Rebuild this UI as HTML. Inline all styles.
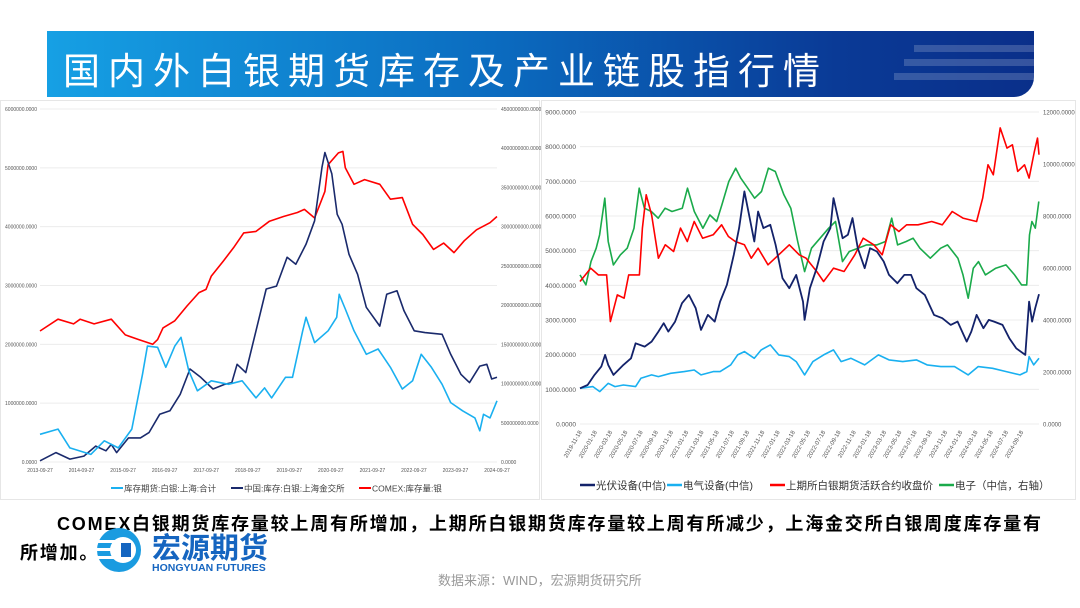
<!DOCTYPE html>
<html><head><meta charset="utf-8">
<style>
body{margin:0;width:1080px;height:608px;background:#fff;position:relative;overflow:hidden;font-family:"Liberation Sans","Noto Sans CJK SC",sans-serif;}
#banner{position:absolute;left:47px;top:31px;width:987px;height:66px;background:linear-gradient(90deg,#16a0e4 0%,#0b6cc0 45%,#0a3a96 80%,#0a2f8a 100%);border-bottom-right-radius:20px;overflow:hidden}
#banner .stripe{position:absolute;right:0;height:7px;background:rgba(255,255,255,0.18)}
#title{position:absolute;left:16px;top:10px;color:#fff;font-size:37px;font-family:"Liberation Sans","Noto Sans CJK SC",sans-serif;letter-spacing:8px;white-space:nowrap}
.panel{position:absolute;top:100px;height:400px;border:1px solid #e6e6e6;box-sizing:border-box}
svg text{font-family:"Liberation Sans","Noto Sans CJK SC",sans-serif}
#note1{position:absolute;left:57px;top:510px;font-size:18px;font-weight:bold;letter-spacing:1.8px;white-space:nowrap}
#note2{position:absolute;left:20px;top:539px;font-size:18px;font-weight:bold;letter-spacing:1.8px;white-space:nowrap}
#source{position:absolute;left:438px;top:570px;font-size:13px;color:#999;white-space:nowrap}
</style></head><body>
<div id="banner">
<div class="stripe" style="top:14px;width:120px"></div>
<div class="stripe" style="top:28px;width:130px"></div>
<div class="stripe" style="top:42px;width:140px"></div>
<div id="title">国内外白银期货库存及产业链股指行情</div>
</div>
<div class="panel" style="left:0;width:540px">
<svg id="left" width="540" height="400"></svg></div>
<div class="panel" style="left:541px;width:535px">
<svg id="right" width="535" height="400"></svg></div>
<div id="note1">COMEX白银期货库存量较上周有所增加，上期所白银期货库存量较上周有所减少，上海金交所白银周度库存量有</div>
<div id="note2">所增加。</div>
<svg style="position:absolute;left:95px;top:526px" width="220" height="50">
<circle cx="24" cy="24" r="22" fill="#1a9be0"/><circle cx="28" cy="24" r="13" fill="#fff"/>
<rect x="2" y="14" width="22" height="3" fill="#fff"/><rect x="2" y="22" width="22" height="3" fill="#fff"/><rect x="2" y="30" width="22" height="3" fill="#fff"/>
<rect x="26" y="17" width="10" height="14" fill="#1565c0"/>
<text x="57" y="32" font-size="29" font-weight="bold" fill="#1565c0">宏源期货</text>
<text x="57" y="45" font-size="10.5" font-weight="bold" fill="#1565c0">HONGYUAN FUTURES</text>
</svg>
<div id="source">数据来源：WIND，宏源期货研究所</div>
<script>
// ---------- left chart data ----------
const lxTicks=["2013-09-27","2014-09-27","2015-09-27","2016-09-27","2017-09-27","2018-09-27","2019-09-27","2020-09-27","2021-09-27","2022-09-27","2023-09-27","2024-09-27"];
const lyTicks=["0.0000","1000000.0000","2000000.0000","3000000.0000","4000000.0000","5000000.0000","6000000.0000"];
const lyrTicks=["0.0000","500000000.0000","1000000000.0000","1500000000.0000","2000000000.0000","2500000000.0000","3000000000.0000","3500000000.0000","4000000000.0000","4500000000.0000"];
const shfeT=[2013.75,2014.19,2014.48,2014.99,2015.32,2015.66,2015.99,2016.25,2016.37,2016.62,2016.82,2017.04,2017.19,2017.38,2017.59,2017.93,2018.35,2018.68,2019.02,2019.23,2019.40,2019.74,2019.91,2020.16,2020.24,2020.45,2020.78,2020.99,2021.05,2021.20,2021.41,2021.71,2022.00,2022.30,2022.59,2022.84,2023.05,2023.30,2023.56,2023.77,2024.06,2024.36,2024.48,2024.57,2024.73,2024.90];
const shfeV=[0.47,0.56,0.24,0.13,0.36,0.24,0.56,1.49,1.97,1.95,1.61,1.97,2.12,1.55,1.21,1.38,1.32,1.38,1.09,1.26,1.09,1.44,1.44,2.23,2.46,2.03,2.23,2.46,2.85,2.60,2.23,1.83,1.92,1.61,1.24,1.38,1.83,1.61,1.32,1.01,0.87,0.75,0.53,0.81,0.75,1.04];
const sgeT=[2013.75,2014.14,2014.48,2014.82,2015.11,2015.36,2015.49,2015.62,2015.91,2016.20,2016.41,2016.67,2016.92,2017.17,2017.41,2017.67,2017.97,2018.26,2018.43,2018.56,2018.77,2019.02,2019.27,2019.52,2019.78,2019.99,2020.24,2020.45,2020.63,2020.70,2020.87,2021.00,2021.12,2021.29,2021.50,2021.71,2022.04,2022.21,2022.46,2022.63,2022.88,2023.14,2023.56,2023.77,2024.02,2024.23,2024.48,2024.65,2024.77,2024.90];
const sgeV=[0.02,0.16,0.05,0.10,0.27,0.19,0.30,0.16,0.41,0.41,0.50,0.81,0.87,1.15,1.58,1.44,1.24,1.32,1.35,1.66,1.52,2.23,2.94,2.99,3.48,3.36,3.70,4.10,5.01,5.26,4.90,4.21,4.04,3.53,3.19,2.63,2.31,2.85,2.91,2.57,2.23,2.20,2.17,1.83,1.49,1.35,1.63,1.66,1.41,1.44];
const comexT=[2013.75,2014.19,2014.57,2014.73,2015.07,2015.49,2015.83,2016.16,2016.50,2016.62,2016.75,2017.04,2017.34,2017.63,2017.80,2017.93,2018.22,2018.47,2018.72,2019.02,2019.35,2019.69,2020.03,2020.20,2020.45,2020.70,2020.78,2021.03,2021.14,2021.20,2021.41,2021.67,2022.04,2022.30,2022.59,2022.84,2023.09,2023.35,2023.60,2023.85,2024.10,2024.40,2024.73,2024.90];
const comexV=[16.7,18.2,17.6,18.2,17.6,18.2,16.2,15.6,15.0,15.6,17.1,18.0,19.9,21.6,22.0,23.7,25.6,27.3,29.2,29.4,30.7,31.3,31.8,32.2,31.1,34.5,37.9,39.4,39.6,37.5,35.4,36.0,35.4,33.5,33.7,30.3,29.0,27.1,27.9,26.7,28.2,29.6,30.5,31.3];
// ---------- right chart data ----------
const rxTicks=["2019-11-18","2020-01-18","2020-03-18","2020-05-18","2020-07-18","2020-09-18","2020-11-18","2021-01-18","2021-03-18","2021-05-18","2021-07-18","2021-09-18","2021-11-18","2022-01-18","2022-03-18","2022-05-18","2022-07-18","2022-09-18","2022-11-18","2023-01-18","2023-03-18","2023-05-18","2023-07-18","2023-09-18","2023-11-18","2024-01-18","2024-03-18","2024-05-18","2024-07-18","2024-09-18"];
const ryTicks=["0.0000","1000.0000","2000.0000","3000.0000","4000.0000","5000.0000","6000.0000","7000.0000","8000.0000","9000.0000"];
const ryrTicks=["0.0000","2000.0000","4000.0000","6000.0000","8000.0000","10000.0000","12000.0000"];
const pvM=[0,1,1.9,2.8,3.3,3.7,4.4,5.7,6.7,7.3,8.5,9.4,10.3,11,11.6,12.5,13.4,14.3,15.2,15.9,16.8,17.7,18.4,19.3,20.2,20.9,21.6,22.3,22.9,23.4,24.1,25,25.7,26.6,27.5,28.4,29.3,29.5,30.2,31.1,32,32.9,33.3,33.8,34.5,35.2,35.8,36.5,37.4,38.1,39,39.9,40.6,41.7,42.6,43.5,44.2,45.3,46.5,47.6,48.7,49.6,50.8,51.4,52.1,53,53.7,54.4,55.5,56.4,57.3,58.5,59.0,59.4,59.8,60.3];
const pvV=[1030,1126,1415,1655,1992,1704,1415,1704,1896,2329,2233,2377,2666,2907,2666,2955,3484,3725,3340,2714,3147,2955,3532,4014,4880,5650,6709,5939,5265,6131,5650,5746,5168,4206,3917,4302,3532,3003,3917,4495,5265,5650,6516,6035,5361,5457,5939,5072,4495,5072,4976,4687,4302,4062,4302,4302,3917,3725,3147,3051,2859,2955,2377,2666,3147,2763,3003,2955,2859,2474,2185,1992,3532,2955,3340,3744];
const elecM=[0,1.7,2.6,3.7,4.6,5.7,7.3,8,9.4,10.3,11.9,13.7,15,15.9,17.5,18.4,19.8,20.7,21.6,22.9,23.8,25,26.1,27.5,28.4,29.5,30.6,32,33.3,34.3,35.6,37.4,39.2,40.6,42.4,44.2,45.6,47.4,49.2,51,52.3,54.2,56,57.8,58.7,59,59.6,60.3];
const elecV=[1030,1078,934,1174,1078,1126,1078,1319,1415,1367,1463,1511,1559,1415,1511,1511,1704,1992,2089,1896,2137,2281,1992,1944,1800,1415,1800,1992,2137,1800,1896,1704,1992,1848,1800,1848,1704,1655,1655,1415,1655,1607,1511,1415,1511,1944,1704,1896];
const agM=[0,1.4,2.4,3.5,4,4.9,5.8,6.4,7.8,8.2,8.7,9.4,10.3,11.2,12.3,13.2,14.1,15,16.1,17.5,18.6,19.5,20.4,21.6,22.5,23.4,24.7,26.1,27.5,28.8,29.7,31.1,32,33.3,34.7,36.1,37.2,38.6,39.7,40.8,41.9,42.9,44.4,46.2,47.6,48.9,50.3,52.1,52.9,53.6,54.3,55.2,56.1,56.8,57.5,58.4,59,59.7,60.1,60.3];
const agV=[4110,4495,4302,4302,2955,3725,3629,4302,4302,5650,6612,6035,4784,5168,4976,5650,5265,5842,5361,5457,5746,5409,5265,5168,4784,5072,4591,4880,5168,4880,4784,4399,4110,4495,4399,4880,5361,5168,4880,5746,5553,5746,5746,5842,5746,6131,5939,5842,6516,7478,7189,8541,7959,8055,7286,7478,7093,7863,8248,7767];
const elM=[0,0.77,1.45,2.13,2.58,3.26,3.71,4.39,5.29,6.2,7.1,7.78,8.46,9.37,10.27,11.18,12.08,13.44,14.12,15.02,16.15,17.06,17.96,18.64,19.55,20.45,21.13,22.04,22.94,23.85,24.75,25.66,26.79,27.69,28.6,29.5,30.41,31.54,32.67,33.57,34.48,35.38,36.52,37.65,39,40.14,40.95,41.72,42.85,43.76,44.66,46.02,47.38,48.28,49.64,50.32,51,51.67,52.35,53.26,54.62,55.97,57.1,58.01,58.69,59.05,59.37,59.82,60.27];
const elV=[5735,5350,6248,6761,7274,8686,7018,6120,6505,6761,7531,9071,8301,8173,7916,8301,8173,8301,9071,8173,7531,8044,7788,8429,9327,9840,9455,9071,8686,8943,9840,9712,8814,8301,7018,5863,6761,7146,7531,7788,6248,6633,6761,6890,6890,7018,7916,6890,7018,7146,6761,6376,6761,6890,6376,5735,4837,5991,6248,5735,5991,6120,5735,5350,5350,7274,7788,7531,8558];

const NS="http://www.w3.org/2000/svg";
function mk(svg,tag,attrs){const e=document.createElementNS(NS,tag);for(const k in attrs)e.setAttribute(k,attrs[k]);svg.appendChild(e);return e;}
function path(svg,xs,ys,fx,fy,color,w,name){
  let d="";for(let i=0;i<xs.length&&i<ys.length;i++){d+=(i?"L":"M")+fx(xs[i]).toFixed(1)+","+fy(ys[i]).toFixed(1);}
  const p=mk(svg,"path",{d:d,fill:"none",stroke:color,"stroke-width":w,"stroke-linejoin":"round"});
  
  
}
// LEFT
(function(){
  const s=document.getElementById("left");
  const x0=39,x1=496,yT=8,yB=361;
  const fx=t=>x0+(t-2013.75)/(2024.9-2013.75)*(x1-x0);
  const fy=v=>yB-v/6*(yB-yT);
  const fyr=v=>yB-v/45*(yB-yT);
  for(let i=0;i<lyTicks.length;i++){
    const y=fy(i);
    const g=mk(s,"line",{x1:x0,x2:x1,y1:y,y2:y,stroke:"#ececec","stroke-width":1});
    
    
    const t=mk(s,"text",{x:x0-3,y:y+2,"font-size":5,"text-anchor":"end",fill:"#555"});t.textContent=lyTicks[i];
    
    
  }
  for(let i=0;i<lyrTicks.length;i++){
    const t=mk(s,"text",{x:x1+4,y:fyr(i*5)+2,"font-size":5,fill:"#555"});t.textContent=lyrTicks[i];
    
    
  }
  for(let i=0;i<lxTicks.length;i++){
    const t=mk(s,"text",{x:fx(2013.75+i*(2024.9-2013.75)/11),y:yB+10,"font-size":5,"text-anchor":"middle",fill:"#555"});t.textContent=lxTicks[i];
    
    
  }
  path(s,comexT,comexV,fx,fyr,"#ff0000",1.6,"comex-series");
  path(s,sgeT,sgeV,fx,fy,"#1a2a6c",1.6,"sge-series");
  path(s,shfeT,shfeV,fx,fy,"#1ab0f0",1.6,"shfe-series");
  const leg=[["#1ab0f0","库存期货:白银:上海:合计",110],["#1a2a6c","中国:库存:白银:上海金交所",230],["#ff0000","COMEX:库存量:银",358]];
  leg.forEach(l=>{
    const a=mk(s,"line",{x1:l[2],x2:l[2]+12,y1:387,y2:387,stroke:l[0],"stroke-width":2});
    
    
    const t=mk(s,"text",{x:l[2]+13,y:390.5,"font-size":8.5,fill:"#444"});t.textContent=l[1];
    
    
  });
})();
// RIGHT
(function(){
  const s=document.getElementById("right");
  const ox=541;
  const x0=579-ox,x1=1038-ox,yT=11,yB=323;
  const fx=m=>x0+m/60.3*(x1-x0);
  const fy=v=>yB-v/9000*(yB-yT);
  const fyr=v=>yB-v/12000*(yB-yT);
  for(let i=0;i<ryTicks.length;i++){
    const y=fy(i*1000);
    const g=mk(s,"line",{x1:x0,x2:x1,y1:y,y2:y,stroke:"#ececec","stroke-width":1});
    
    
    const t=mk(s,"text",{x:x0-4,y:y+2.5,"font-size":6.5,"text-anchor":"end",fill:"#555"});t.textContent=ryTicks[i];
    
    
  }
  for(let i=0;i<ryrTicks.length;i++){
    const t=mk(s,"text",{x:x1+4,y:fyr(i*2000)+2.5,"font-size":6,fill:"#555"});t.textContent=ryrTicks[i];
    
    
  }
  for(let i=0;i<rxTicks.length;i++){
    const x=fx(i*2)+2,y=yB+8;
    const t=mk(s,"text",{x:x,y:y,"font-size":6,"text-anchor":"end",fill:"#555",transform:"rotate(-60 "+x+" "+y+")"});t.textContent=rxTicks[i];
    
    
  }
  path(s,elecM,elecV,fx,fy,"#19b0f0",1.6,"electrical-equipment-series");
  path(s,elM,elV,fx,fyr,"#1aaa4a",1.6,"electronics-series");
  path(s,agM,agV,fx,fy,"#ff0000",1.6,"shfe-silver-price-series");
  path(s,pvM,pvV,fx,fy,"#13226a",1.8,"pv-equipment-series");
  const leg=[["#13226a","光伏设备(中信)",38],["#19b0f0","电气设备(中信)",125],["#ff0000","上期所白银期货活跃合约收盘价",228],["#1aaa4a","电子（中信，右轴）",397]];
  leg.forEach(l=>{
    const a=mk(s,"line",{x1:l[2],x2:l[2]+15,y1:384,y2:384,stroke:l[0],"stroke-width":2.5});
    
    
    const t=mk(s,"text",{x:l[2]+16,y:388,"font-size":10.5,fill:"#333"});t.textContent=l[1];
    
    
  });
})();
</script>
</body></html>
